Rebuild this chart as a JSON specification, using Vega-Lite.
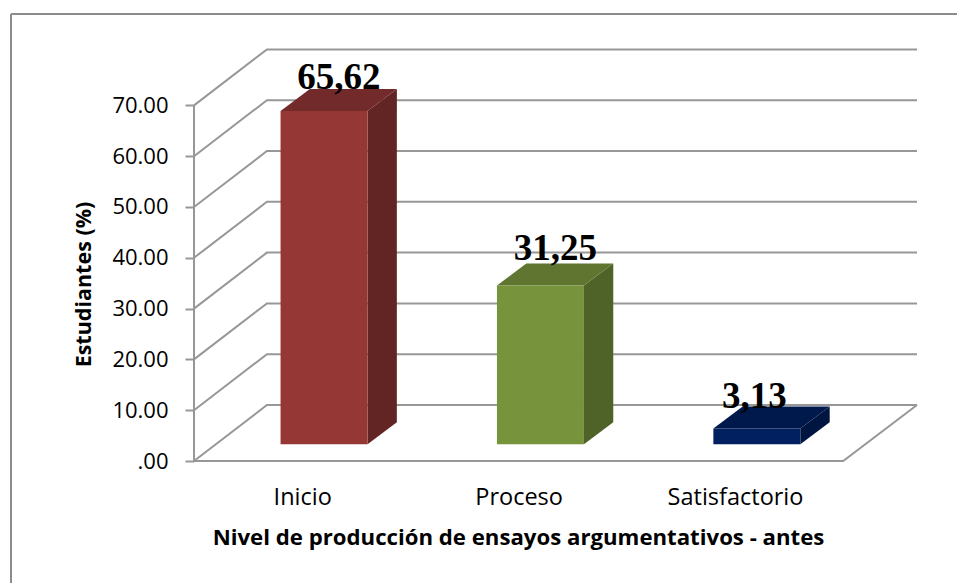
{
"$schema":"https://vega.github.io/schema/vega-lite/v6.json",
"width":723,"height":412,
"autosize":{"type":"none"},
"padding":{"left":194,"top":49,"right":40,"bottom":122},
"background":"white",
"view":{"stroke":null},
"datasets":{
 "bars":[
  {"category":"Inicio","value":65.62,"label":"65,62"},
  {"category":"Proceso","value":31.25,"label":"31,25"},
  {"category":"Satisfactorio","value":3.13,"label":"3,13"}
 ],
 "ticks":[{"tick":0},{"tick":10},{"tick":20},{"tick":30},{"tick":40},{"tick":50},{"tick":60},{"tick":70}]
},
"encoding":{
 "x":{"field":"px","type":"quantitative","scale":{"domain":[0,3.341],"nice":false,"zero":false},
  "axis":{"values":[0.5,1.5,2.5],"labelExpr":"datum.value<1?'Inicio':datum.value<2?'Proceso':'Satisfactorio'","domain":false,"ticks":false,"grid":false,"labelFont":"Open Sans","labelFontSize":23.5,"labelColor":"#000000","labelPadding":24,"labelOverlap":false,"labelFlush":false,"title":"Nivel de producción de ensayos argumentativos - antes","titleFont":"Open Sans","titleFontSize":22.2,"titleFontWeight":"bold","titleColor":"#000000","titleX":324,"titleY":76,"titleBaseline":"middle"}},
 "y":{"field":"py","type":"quantitative","scale":{"domain":[0,81.102],"nice":false,"zero":false},
  "axis":{"values":[0,10,20,30,40,50,60,70],"labelExpr":"datum.value==0?'.00':format(datum.value,'.2f')","domain":false,"grid":false,"tickColor":"#979797","tickWidth":2,"tickSize":9,"labelFont":"Open Sans","labelFontSize":22,"labelColor":"#000000","labelPadding":17,"title":"Estudiantes (%)","titleFont":"Open Sans","titleFontSize":21.5,"titleFontWeight":"bold","titleColor":"#000000","titleX":-110,"titleY":235,"titleBaseline":"middle"}}
},
"layer":[
 {"data":{"values":[{"side":"left"},{"side":"top"}]},
  "transform":[
   {"calculate":"-0.8457","as":"px"},
   {"calculate":"datum.side=='left'?-0.8457:3.526","as":"px2"},
   {"calculate":"datum.side=='left'?-24:88","as":"py"},
   {"calculate":"88","as":"py2"}],
  "mark":{"type":"rule","stroke":"#8c8c8c","strokeWidth":2,"clip":false},
  "encoding":{"x2":{"field":"px2"},"y2":{"field":"py2"}}},
 {"data":{"name":"ticks"},
  "transform":[
   {"calculate":"[0,1,2]","as":"t"},{"flatten":["t"]},
   {"calculate":"datum.t==0?0:datum.t==1?0.337:3.341","as":"px"},
   {"calculate":"datum.tick+(datum.t==0?0:11.02)","as":"py"}],
  "mark":{"type":"line","stroke":"#979797","strokeWidth":2},
  "encoding":{"detail":{"field":"tick"},"order":{"field":"t"}}},
 {"data":{"values":[{"part":"floor"}]},
  "transform":[
   {"calculate":"[0,1,2]","as":"t"},{"flatten":["t"]},
   {"calculate":"datum.t==0?0:datum.t==1?3:3.341","as":"px"},
   {"calculate":"datum.t==2?11.02:0","as":"py"}],
  "mark":{"type":"line","stroke":"#979797","strokeWidth":2},
  "encoding":{"order":{"field":"t"}}},
 {"data":{"values":[{"part":"wall"}]},
  "transform":[
   {"calculate":"0","as":"px"},{"calculate":"0","as":"py"},{"calculate":"70","as":"py2"}],
  "mark":{"type":"rule","stroke":"#979797","strokeWidth":2},
  "encoding":{"y2":{"field":"py2"}}},
 {"data":{"name":"bars"},
  "transform":[
   {"calculate":"indexof(['Inicio','Proceso','Satisfactorio'],datum.category)","as":"i"},
   {"calculate":"[0,1]","as":"t"},{"flatten":["t"]},
   {"calculate":"datum.i+0.4+0.402+datum.t*0.1354","as":"px"},
   {"calculate":"3.29+datum.t*4.33","as":"py"},
   {"calculate":"3.29+datum.value+datum.t*4.33","as":"py2"},
   {"calculate":"datum.category+' side'","as":"key"}],
  "mark":{"type":"area","line":false,"point":false},
  "encoding":{"y2":{"field":"py2","type":"quantitative"},"detail":{"field":"key"},
   "color":{"field":"key","legend":null,"scale":{"domain":["Inicio side","Proceso side","Satisfactorio side","Inicio top","Proceso top","Satisfactorio top","Inicio front","Proceso front","Satisfactorio front"],"range":["#632523","#4F6228","#001540","#722B2A","#5F7530","#00194C","#953735","#77933C","#002060"]}}}},
 {"data":{"name":"bars"},
  "transform":[
   {"calculate":"indexof(['Inicio','Proceso','Satisfactorio'],datum.category)","as":"i"},
   {"calculate":"[0,1,2,3]","as":"t"},{"flatten":["t"]},
   {"calculate":"datum.i+0.4+(datum.t==0?0:datum.t==1?0.1354:datum.t==2?0.402:0.5374)","as":"px"},
   {"calculate":"3.29+datum.value+(datum.t==3?4.33:0)","as":"py"},
   {"calculate":"3.29+datum.value+(datum.t==0?0:4.33)","as":"py2"},
   {"calculate":"datum.category+' top'","as":"key"}],
  "mark":{"type":"area"},
  "encoding":{"y2":{"field":"py2","type":"quantitative"},"detail":{"field":"key"},
   "color":{"field":"key","legend":null}}},
 {"data":{"name":"bars"},
  "transform":[
   {"calculate":"indexof(['Inicio','Proceso','Satisfactorio'],datum.category)","as":"i"},
   {"calculate":"datum.i+0.4","as":"px"},
   {"calculate":"datum.i+0.802","as":"px2"},
   {"calculate":"3.29","as":"py"},
   {"calculate":"3.29+datum.value","as":"py2"},
   {"calculate":"datum.category+' front'","as":"key"}],
  "mark":{"type":"rect"},
  "encoding":{"x2":{"field":"px2"},"y2":{"field":"py2"},
   "color":{"field":"key","legend":null}}},
 {"data":{"name":"bars"},
  "transform":[
   {"calculate":"indexof(['Inicio','Proceso','Satisfactorio'],datum.category)","as":"i"},
   {"calculate":"datum.i+0.4+(datum.i==2?0.19:0.27)","as":"px"},
   {"calculate":"3.29+datum.value+4.33+(datum.i==1?0.65:datum.i==2?-0.25:0)","as":"py"}],
  "mark":{"type":"text","font":"Liberation Serif","fontWeight":"bold","fontSize":37,"color":"#000000","baseline":"alphabetic","align":"center"},
  "encoding":{"text":{"field":"label"}}}
]
}
